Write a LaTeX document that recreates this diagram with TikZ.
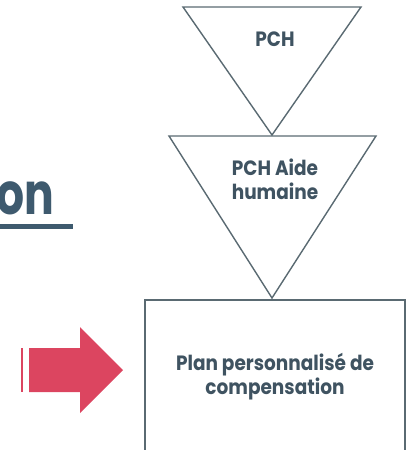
\documentclass[tikz,border=0pt]{standalone}
\usepackage{fontspec}
\setmainfont{Poppins}
\definecolor{linec}{HTML}{5A6A72}
\definecolor{textc}{HTML}{3F5361}
\definecolor{titlec}{HTML}{3E5A6E}
\definecolor{arrowc}{HTML}{DC4560}
\begin{document}
\begin{tikzpicture}[x=1pt,y=-1pt,
  shapeline/.style={draw=linec,line width=1.4pt,fill=white},
  lbl/.style={text=textc,font=\bfseries\fontsize{18.5}{21.5}\selectfont,align=center,inner sep=0pt,yscale=1.12}]
\useasboundingbox (0,0) rectangle (411,450);
\clip (0,0) rectangle (411,450);
% triangles
\draw[shapeline] (183,7) -- (361,7) -- (272,135) -- cycle;
\draw[shapeline] (169,136) -- (376,136) -- (272,298) -- cycle;
\draw[shapeline] (145,300) rectangle (405,458);
\node[lbl] (t1) at (275,39) {PCH};
\node[lbl] (t2) at (275,179) {PCH Aide\\humaine};
\node[lbl] (t3) at (275,377) {Plan personnalisé de\\compensation};
% title fragment
\node[text=titlec,font=\bfseries\fontsize{58}{60}\selectfont,anchor=base east,inner sep=0pt,xscale=0.76] (title) at (54,214) {on};
\fill[titlec] (0,224) rectangle (73,228.5);
% arrow
\fill[arrowc] (21,348) rectangle (23,392);
\fill[arrowc] (29,348) -- (80,348) -- (80,327) -- (123,370) -- (80,413) -- (80,392) -- (29,392) -- cycle;
\end{tikzpicture}
\end{document}
